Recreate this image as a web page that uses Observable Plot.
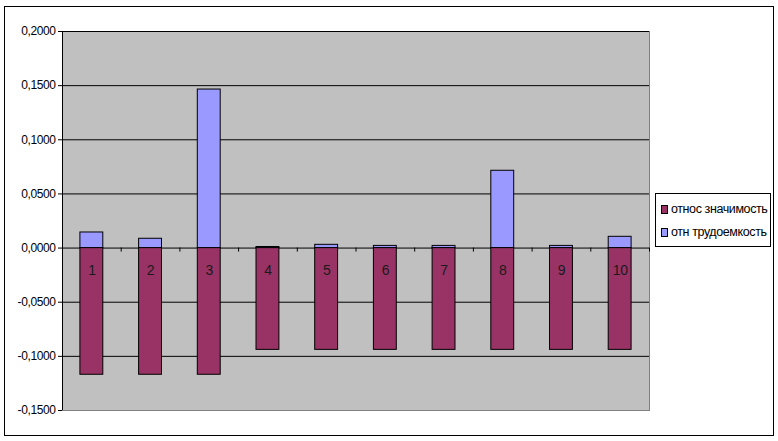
<!DOCTYPE html>
<html>
<head>
<meta charset="utf-8">
<script src="https://cdn.jsdelivr.net/npm/d3@7"></script>
<script src="https://cdn.jsdelivr.net/npm/@observablehq/plot@0.6"></script>
<style>
  html, body { margin: 0; padding: 0; background: #fff; }
  #wrap { position: relative; width: 778px; height: 441px; font-family: "Liberation Sans", Arial, sans-serif; }
  #outer { position: absolute; left: 4px; top: 6px; width: 768px; height: 428px; border: 1.5px solid #000; pointer-events: none; }
  #legend { position: absolute; left: 655px; top: 193px; width: 114px; height: 52px; border: 1px solid #000; background: #fff; font-size: 12.5px; letter-spacing: -0.4px; }
  .item { position: absolute; left: 5px; display: flex; align-items: center; white-space: nowrap; color: #000; }
  .sw { width: 5px; height: 7px; border: 1px solid #000; margin-right: 3px; }
  svg text { letter-spacing: -0.4px; }
</style>
</head>
<body>
<div id="wrap">
  <div id="chart"></div>
  <div id="outer"></div>
  <div id="legend"></div>
</div>
<script>
const categories = ["1", "2", "3", "4", "5", "6", "7", "8", "9", "10"];
const seriesNames = ["относ значимость", "отн трудоемкость"];
const znachimost = [-0.117, -0.117, -0.117, -0.094, -0.094, -0.094, -0.094, -0.094, -0.094, -0.094];
const trudoemkost = [0.0144, 0.0086, 0.1464, 0.001, 0.003, 0.002, 0.002, 0.0714, 0.002, 0.0104];
const yTicks = [-0.15, -0.1, -0.05, 0, 0.05, 0.1, 0.15, 0.2];
const colors = ["#993366", "#9999FF"];

const W = 778, H = 441, mL = 62, mR = 129, mT = 31, mB = 31;
const step = (W - mL - mR) / categories.length;
const tickLen = 4 * 0.35 / (H - mT - mB);

const rows = [];
categories.forEach((c, i) => {
  rows.push({cat: c, series: seriesNames[0], v: znachimost[i]});
  rows.push({cat: c, series: seriesNames[1], v: trudoemkost[i]});
});

const fmt = d => d3.format(".4f")(d).replace(".", ",").replace("−", "-");

const plot = Plot.plot({
  width: W, height: H,
  marginLeft: mL, marginRight: mR, marginTop: mT, marginBottom: mB,
  style: {fontFamily: "Liberation Sans, Arial, sans-serif", fontSize: "12px", background: "transparent"},
  x: {domain: categories, paddingInner: 0.61, paddingOuter: 0.305, round: false, axis: null},
  y: {domain: [-0.15, 0.2], ticks: yTicks, tickFormat: fmt, tickSize: 4, tickPadding: 3, label: null, line: false},
  color: {domain: seriesNames, range: colors},
  marks: [
    Plot.frame({fill: "#C0C0C0", stroke: "#808080"}),
    Plot.ruleY(yTicks.filter(t => t > -0.15 && t < 0.2), {stroke: "#000", strokeWidth: 1}),
    Plot.ruleY([0.2], {stroke: "#000", strokeWidth: 1}),
    Plot.barY(rows, {x: "cat", y: "v", fill: "series", stroke: "#000", strokeWidth: 1}),
    Plot.ruleX(categories, {x: d => d, y1: 0, y2: -tickLen, dx: step / 2, stroke: "#000"}),
    Plot.ruleX([categories[0]], {x: d => d, y1: -0.15, y2: 0.2, dx: -step / 2, stroke: "#000"}),
    Plot.text(categories, {x: d => d, y: 0, dy: 22, text: d => d, fill: "#1a1a1a", fontSize: 14})
  ]
});
document.getElementById("chart").appendChild(plot);

const legend = document.getElementById("legend");
seriesNames.forEach((name, i) => {
  const item = document.createElement("div");
  item.className = "item";
  item.style.top = (i === 0 ? 8 : 31) + "px";
  const sw = document.createElement("div");
  sw.className = "sw";
  sw.style.background = colors[i];
  const t = document.createElement("span");
  t.textContent = name;
  item.appendChild(sw);
  item.appendChild(t);
  legend.appendChild(item);
});
</script>
</body>
</html>
